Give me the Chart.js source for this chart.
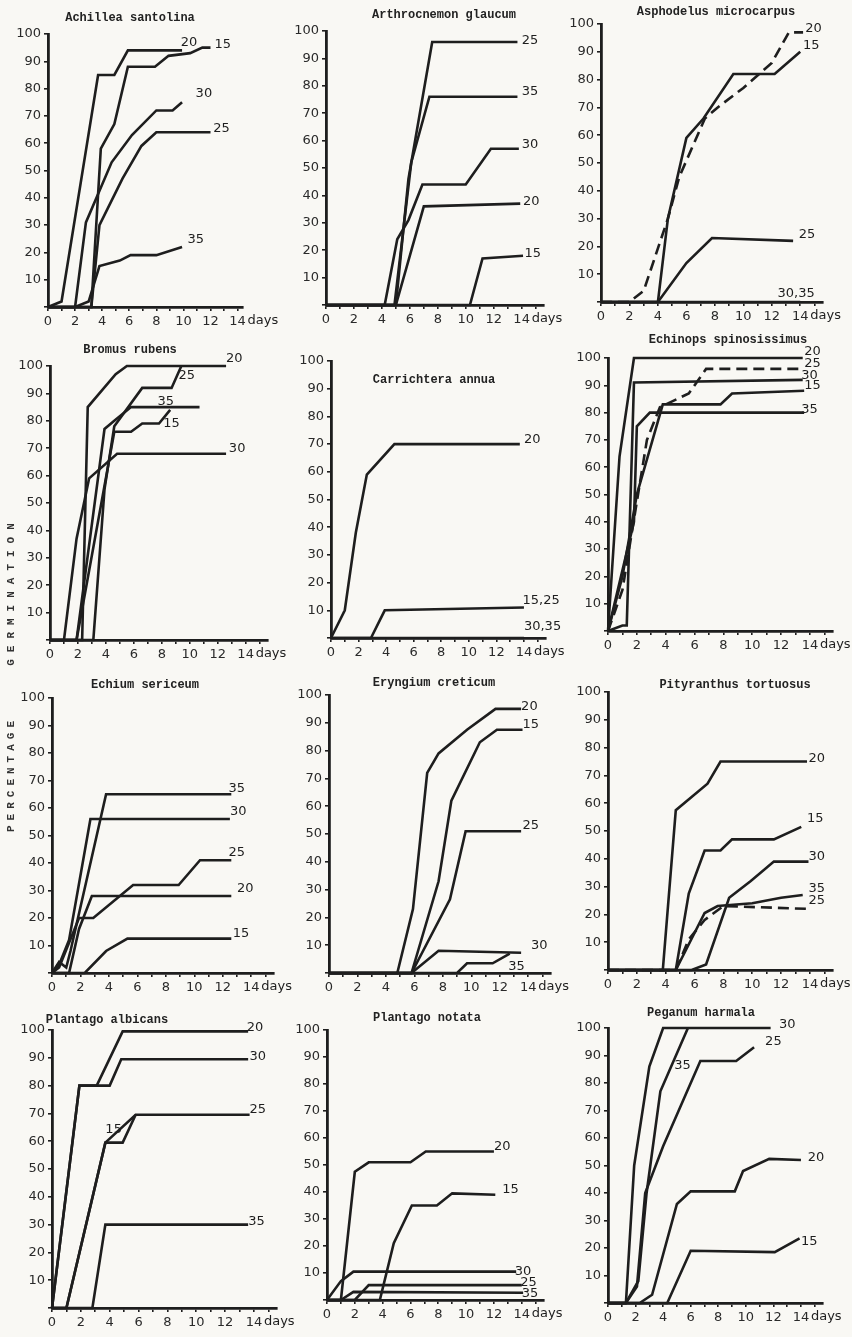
<!DOCTYPE html>
<html>
<head>
<meta charset="utf-8">
<script src="https://cdn.jsdelivr.net/npm/chart.js@4"></script>
<style>
html, body { margin: 0; padding: 0; background: #f9f8f4; }
#page { position: relative; width: 852px; height: 1337px; overflow: hidden; }
canvas { position: absolute; }
.title { position: absolute; font: bold 12px "Liberation Mono", monospace; color: #222; white-space: nowrap; transform: translate(-50%, -50%); }
.side { position: absolute; font: bold 11px "Liberation Mono", monospace; color: #333; white-space: nowrap; transform: translate(-50%, -50%) rotate(-90deg); }
</style>
</head>
<body>
<div id="page"></div>
<script>
// germination (%) against days, one list of [day, percent] per temperature
var xTicks = [0, 2, 4, 6, 8, 10, 12, 14];
var yTicks = [10, 20, 30, 40, 50, 60, 70, 80, 90, 100];

var achillea15 = [[0,0],[3.2,0],[3.9,58],[4.9,67],[5.9,88],[7.9,88],[8.9,92],[10.5,93],[11.4,95],[12,95]];
var achillea20 = [[0,0],[1,2],[3.7,85],[4.9,85],[5.9,94],[9.9,94]];
var achillea25 = [[0,0],[3.2,0],[3.8,30],[5.5,47],[6.9,59],[8,64],[12,64]];
var achillea30 = [[0,0],[2,0],[2.8,31],[4.7,53],[6.2,63],[8,72],[9.2,72],[9.9,75]];
var achillea35 = [[0,0],[2,0],[3,2],[3.8,15],[5.3,17],[6.1,19],[8,19],[9.9,22]];

var arthro15 = [[0,0],[10.3,0],[11.2,17],[14.1,18]];
var arthro20 = [[0,0],[5,0],[7,36],[13.9,37]];
var arthro25 = [[0,0],[5,0],[5.9,46],[7.6,96],[13.7,96]];
var arthro30 = [[0,0],[4.2,0],[5.1,24],[5.9,31],[6.9,44],[10,44],[11.8,57],[13.8,57]];
var arthro35 = [[0,0],[4.9,0],[6.1,52],[7.4,76],[13.7,76]];

var asphod15 = [[0,0],[4,0],[4.7,30],[6,59],[7.2,66],[9.3,82],[10.4,82],[12.2,82],[14,90]];
var asphod20 = [[0,0],[2,0],[3,4],[4.7,30],[5.5,45],[7.3,66],[8.2,70],[10,77],[12,86],[13.2,97],[14.2,97]];
var asphod25 = [[0,0],[4,0],[6,14],[7.8,23],[13.5,22]];
var asphod3035 = [[0,0],[14,0]];

var bromus15 = [[0,0],[1.9,0],[4.6,76],[5.8,76],[6.6,79],[7.8,79],[8.6,84]];
var bromus20 = [[0,0],[2.3,0],[2.7,85],[4.7,97],[5.5,100],[12.6,100]];
var bromus25 = [[0,0],[3.1,0],[3.9,55],[4.6,78],[6.6,92],[8.7,92],[9.4,100]];
var bromus30 = [[0,0],[1,0],[1.9,37],[2.8,59],[4.8,68],[12.6,68]];
var bromus35 = [[0,0],[1.9,0],[3.9,77],[4.6,80],[5.8,85],[10.7,85]];

var carri20 = [[0,0],[1,10],[1.8,38],[2.6,59],[4.6,70],[13.7,70]];
var carri1525 = [[0,0],[2.9,0],[3.9,10],[14,11]];
var carri3035 = [[0,0],[14,0]];

var echin15 = [[0,0],[1,20],[2,50],[3.8,83],[7.8,83],[8.6,87],[13.6,88]];
var echin20 = [[0,0],[0.8,64],[1.8,100],[13.5,100]];
var echin25 = [[0,0],[1,15],[2.7,70],[3.6,82],[5.6,87],[6.8,96],[13.4,96]];
var echin30 = [[0,0],[1,2],[1.3,2],[1.8,91],[13.5,92]];
var echin35 = [[0,0],[1.8,40],[2,75],[2.9,80],[13.6,80]];

var echium15 = [[0,0],[2.3,0],[3.8,8],[5.3,12.5],[12.6,12.5]];
var echium20 = [[0,0],[1.2,0],[1.9,16],[2.8,28],[12.6,28]];
var echium25 = [[0,0],[0.5,2],[1.9,20],[2.9,20],[5.7,32],[8.9,32],[10.4,41],[12.6,41]];
var echium30 = [[0,0],[0.5,3],[1.2,12],[2.7,56],[12.5,56]];
var echium35 = [[0,0],[0.5,4],[1,2],[1.3,8],[3.8,65],[12.6,65]];

var eryng15 = [[0,0],[5.8,0],[7.7,33],[8.6,62],[10.6,83],[11.8,87.5],[13.6,87.5]];
var eryng20 = [[0,0],[4.8,0],[5.9,23],[6.9,72],[7.7,79],[9.7,87.5],[11.7,95],[13.5,95]];
var eryng25 = [[0,0],[5.8,0],[8.5,26.5],[9.6,51],[13.5,51]];
var eryng30 = [[0,0],[5.8,0],[7.7,8],[13.5,7.3]];
var eryng35 = [[0,0],[9,0],[9.7,3.5],[11.5,3.5],[12.7,7]];

var pity15 = [[0,0],[4.7,0],[5.6,27.5],[6.7,43],[7.8,43],[8.6,47],[11.5,47],[13.4,51.5]];
var pity20 = [[0,0],[3.8,0],[4.7,57.5],[6.9,67],[7.8,75],[13.8,75]];
var pity25 = [[0,0],[4.7,0],[5.6,11],[6.7,18],[8,23],[13.8,22]];
var pity30 = [[0,0],[5.8,0],[6.8,2],[8.4,26],[9.9,32],[11.5,39],[13.9,39]];
var pity35 = [[0,0],[4.7,0],[6.7,20.5],[7.6,23],[10,24],[12,26],[13.5,27]];

var palb15 = [[0,0],[1,0],[3.7,59.5],[4.9,59.5],[5.8,69.5]];
var palb20 = [[0,0],[1.9,80],[3.1,80],[4.9,99.5],[13.6,99.5]];
var palb25 = [[0,0],[1,0],[3.7,59.5],[5.8,69.5],[13.7,69.5]];
var palb30 = [[0,0],[1.9,80],[4,80],[4.8,89.5],[13.6,89.5]];
var palb35 = [[0,0],[2.8,0],[3.7,30],[13.6,30]];

var pnot15 = [[0,0],[3.8,0],[4.8,21],[6.1,35],[7.9,35],[9,39.5],[12.1,39]];
var pnot20 = [[0,0],[1,0],[2,47.5],[3,51],[6,51],[7.1,55],[12,55]];
var pnot25 = [[0,0],[2,0],[3,5.5],[14,5.5]];
var pnot30 = [[0,0],[1,7],[1.9,10.5],[13.6,10.5]];
var pnot35 = [[0,0],[1,0],[1.9,3],[14.1,2.7]];

var pegan15 = [[0,0],[4.3,0],[6,19],[12.1,18.5],[13.9,23.5]];
var pegan20 = [[0,0],[2.3,0],[3.2,3],[5,36],[6,40.6],[9.2,40.6],[9.8,48],[11.7,52.4],[14,52]];
var pegan25 = [[0,0],[1.3,0],[2.1,6],[2.7,40],[4,57],[6.7,88],[9.3,88],[10.6,93]];
var pegan30 = [[0,0],[1.3,0],[1.9,50],[3,86],[4,100],[11.8,100]];
var pegan35 = [[0,0],[1.3,0],[2.2,8],[2.8,40],[3.8,77],[5.8,100]];

var INK = "#1e1e1e";

// box: page pixels of [day 0, day 14, 100 %, 0 %]
var panels = [
  { title: "Achillea santolina", t: [130, 18], box: [48, 238, 34, 307], xMax: 14.4,
    series: [[achillea15], [achillea20], [achillea25], [achillea30], [achillea35]],
    tags: [[9.8, 97, "20"], [12.3, 96, "15"], [10.9, 78, "30"], [12.2, 65.5, "25"], [10.3, 24.6, "35"]] },
  { title: "Arthrocnemon glaucum", t: [444, 15], box: [326, 522, 31, 305], xMax: 15.6,
    series: [[arthro15], [arthro20], [arthro25], [arthro30], [arthro35]],
    tags: [[14, 96.6, "25"], [14, 78, "35"], [14, 58.7, "30"], [14.1, 37.7, "20"], [14.2, 18.8, "15"]] },
  { title: "Asphodelus microcarpus", t: [716, 12], box: [601, 801, 24, 302], xMax: 15.6,
    series: [[asphod15], [asphod20, true], [asphod25], [asphod3035]],
    tags: [[14.35, 98.4, "20"], [14.2, 92.4, "15"], [13.9, 24.3, "25"], [12.4, 2.9, "30,35"]] },
  { title: "Bromus rubens", t: [130, 350], box: [50, 246, 366, 640], xMax: 15.6,
    series: [[bromus15], [bromus20], [bromus25], [bromus30], [bromus35]],
    tags: [[12.6, 102.7, "20"], [9.2, 96.6, "25"], [7.7, 87, "35"], [8.1, 79, "15"], [12.8, 70, "30"]] },
  { title: "Carrichtera annua", t: [434, 380], box: [331, 524, 361, 638], xMax: 15.6,
    series: [[carri20], [carri1525], [carri3035]],
    tags: [[14, 71.5, "20"], [13.9, 13.5, "15,25"], [14, 4.2, "30,35"]] },
  { title: "Echinops spinosissimus", t: [728, 340], box: [608, 810, 358, 631], xMax: 15.6,
    series: [[echin15], [echin20], [echin25, true], [echin30], [echin35]],
    tags: [[13.6, 102.4, "20"], [13.6, 97.8, "25"], [13.4, 93.6, "30"], [13.6, 90, "15"], [13.4, 81, "35"]] },
  { title: "Echium sericeum", t: [145, 685], box: [52, 252, 698, 973], xMax: 15.6,
    series: [[echium15], [echium20], [echium25], [echium30], [echium35]],
    tags: [[12.4, 66.9, "35"], [12.5, 58.7, "30"], [12.4, 43.8, "25"], [13, 30.8, "20"], [12.7, 14.4, "15"]] },
  { title: "Eryngium creticum", t: [434, 683], box: [329, 529, 695, 973], xMax: 15.6,
    series: [[eryng15], [eryng20], [eryng25], [eryng30], [eryng35]],
    tags: [[13.5, 95.8, "20"], [13.6, 89.2, "15"], [13.6, 52.9, "25"], [14.2, 10, "30"], [12.6, 2.3, "35"]] },
  { title: "Pityranthus tortuosus", t: [735, 685], box: [608, 810, 692, 970], xMax: 15.6,
    series: [[pity15], [pity20], [pity25, true], [pity30], [pity35]],
    tags: [[13.9, 76, "20"], [13.8, 54.5, "15"], [13.9, 40.7, "30"], [13.9, 29.3, "35"], [13.9, 24.9, "25"]] },
  { title: "Plantago albicans", t: [107, 1020], box: [52, 254, 1030, 1308], xMax: 15.6,
    series: [[palb15], [palb20], [palb25], [palb30], [palb35]],
    tags: [[13.5, 101, "20"], [13.7, 90.4, "30"], [13.7, 71.3, "25"], [3.7, 64, "15"], [13.6, 31, "35"]] },
  { title: "Plantago notata", t: [427, 1018], box: [327, 522, 1030, 1300], xMax: 15.6,
    series: [[pnot15], [pnot20], [pnot25], [pnot30], [pnot35]],
    tags: [[12, 56.8, "20"], [12.6, 41, "15"], [13.5, 10.5, "30"], [13.9, 6.4, "25"], [14, 2.5, "35"]] },
  { title: "Peganum harmala", t: [701, 1013], box: [608, 801, 1028, 1303], xMax: 15.6,
    series: [[pegan15], [pegan20], [pegan25], [pegan30], [pegan35]],
    tags: [[12.4, 101.2, "30"], [11.4, 95, "25"], [4.8, 86.3, "35"], [14.5, 53, "20"], [14, 22.4, "15"]] }
];

Chart.defaults.font.family = '"DejaVu Sans", sans-serif';
Chart.defaults.color = "#2a2a2a";

var page = document.getElementById("page");
var L = 48, T = 14, R = 70, B = 34, YW = 40, XH = 24;

function tagPlugin(tags) {
  return {
    id: "tags",
    afterDatasetsDraw: function (chart) {
      var ctx = chart.ctx, x = chart.scales.x, y = chart.scales.y;
      ctx.save();
      ctx.fillStyle = INK;
      ctx.font = '13px "DejaVu Sans", sans-serif';
      ctx.textAlign = "left";
      ctx.textBaseline = "middle";
      tags.forEach(function (t) {
        ctx.fillText(t[2], x.getPixelForValue(t[0]), y.getPixelForValue(t[1]));
      });
      ctx.textBaseline = "top";
      ctx.fillText("days", x.getPixelForValue(14) + 10, x.top + 7);
      ctx.restore();
    }
  };
}

panels.forEach(function (p) {
  var x0 = p.box[0], x14 = p.box[1], top = p.box[2], bottom = p.box[3];
  var right = x0 + (x14 - x0) / 14 * p.xMax;
  var cv = document.createElement("canvas");
  cv.width = right - x0 + L + R;
  cv.height = bottom - top + T + B;
  cv.style.left = (x0 - L) + "px";
  cv.style.top = (top - T) + "px";
  page.appendChild(cv);

  var head = document.createElement("div");
  head.className = "title";
  head.textContent = p.title;
  head.style.left = p.t[0] + "px";
  head.style.top = p.t[1] + "px";
  page.appendChild(head);

  new Chart(cv.getContext("2d"), {
    type: "line",
    data: {
      datasets: p.series.map(function (s) {
        return {
          data: s[0].map(function (d) { return { x: d[0], y: d[1] }; }),
          borderColor: INK,
          borderWidth: 2.6,
          borderDash: s[1] ? [11, 6] : [],
          pointRadius: 0,
          tension: 0,
          fill: false,
          clip: false
        };
      })
    },
    options: {
      responsive: false,
      animation: false,
      events: [],
      layout: { padding: { left: L - YW, top: T, right: R, bottom: B - XH } },
      plugins: { legend: { display: false }, tooltip: { enabled: false } },
      scales: {
        x: {
          type: "linear", min: 0, max: p.xMax,
          ticks: {
            stepSize: 1, includeBounds: false, autoSkip: false, maxRotation: 0, padding: 3,
            font: { size: 13 },
            callback: function (v) { return xTicks.indexOf(v) >= 0 ? String(v) : ""; }
          },
          grid: { drawOnChartArea: false, tickLength: 4, color: INK, lineWidth: 1.6 },
          border: { color: INK, width: 2.8 },
          afterFit: function (s) { s.height = XH; s.paddingLeft = 0; s.paddingRight = 0; }
        },
        y: {
          min: 0, max: 100,
          ticks: {
            stepSize: 10, padding: 3, font: { size: 13 },
            callback: function (v) { return yTicks.indexOf(v) >= 0 ? String(v) : ""; }
          },
          grid: { drawOnChartArea: false, tickLength: 4, color: INK, lineWidth: 1.6 },
          border: { color: INK, width: 2.8 },
          afterFit: function (s) { s.width = YW; s.paddingTop = 0; s.paddingBottom = 0; }
        }
      }
    },
    plugins: [tagPlugin(p.tags)]
  });
});

// shared axis title down the left edge
[["PERCENTAGE", 774, "5px"], ["GERMINATION", 591, "7px"]].forEach(function (s) {
  var d = document.createElement("div");
  d.className = "side";
  d.textContent = s[0];
  d.style.letterSpacing = s[2];
  d.style.left = "11px";
  d.style.top = s[1] + "px";
  page.appendChild(d);
});
</script>
</body>
</html>
